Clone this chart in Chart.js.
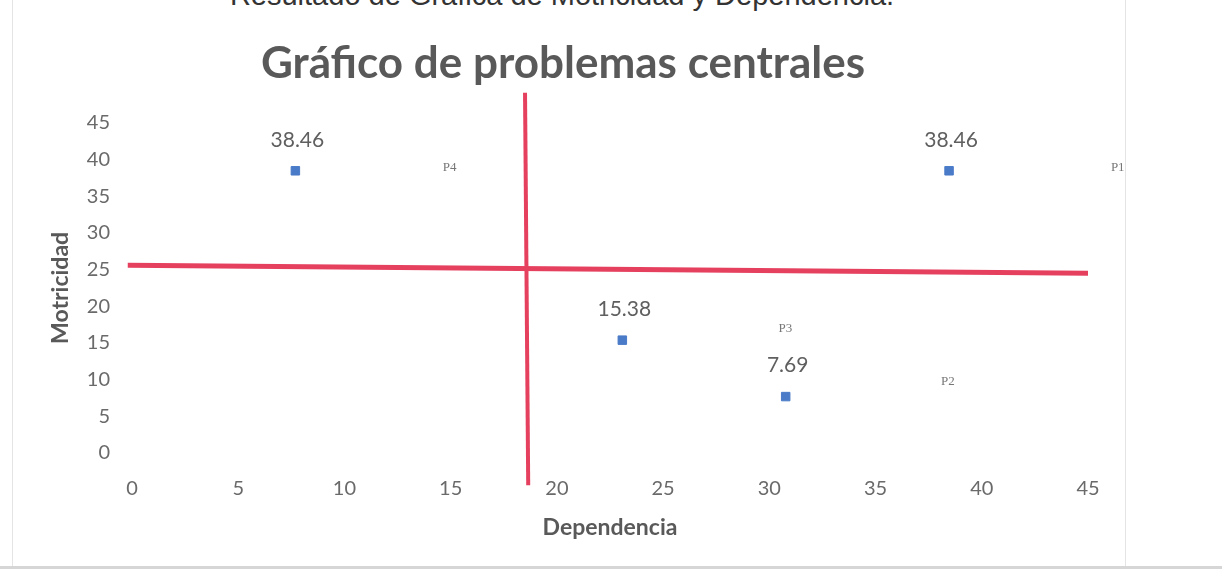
<!DOCTYPE html>
<html>
<head>
<meta charset="utf-8">
<script src="https://cdn.jsdelivr.net/npm/chart.js@4/dist/chart.umd.min.js"></script>
<style>
  html, body { margin: 0; padding: 0; background: #fff; overflow: hidden; }
  #wrap { position: relative; width: 1222px; height: 572px; }
  #top { position: absolute; left: 0; width: 1124px; top: -21px; text-align: center;
         font: 29px "Liberation Sans", Arial, sans-serif; color: #333; white-space: nowrap; }
  #grafica { position: absolute; left: 0; top: 0; }
  .marco { position: absolute; background: #e4e4e4; }
</style>
</head>
<body>
<div id="wrap">
  <div class="marco" style="left:12px;top:0;width:1px;height:566px"></div>
  <div class="marco" style="left:1125px;top:0;width:1px;height:566px"></div>
  <div class="marco" style="left:0;top:566px;width:1222px;height:3px;background:#d6d6d6"></div>
  <div id="top">Resultado de Gráfica de Motricidad y Dependencia.</div>
  <canvas id="grafica" width="1134" height="572"></canvas>
</div>
<script>
// datos de los problemas
const problemas = ['P1', 'P2', 'P3', 'P4'];
const dependencia = [38.46, 30.77, 23.08, 7.69];
const motricidad = [38.46, 7.69, 15.38, 38.46];

// donde quedaron las etiquetas P1..P4 (en unidades del grafico)
const etiquetaX = [46.4, 38.4, 30.75, 14.95];
const etiquetaY = [38.9, 9.8, 16.9, 38.9];

// lineas rojas de cuadrantes, trazadas a mano
const lineaHX = [-0.2, 45];
const lineaHY = [25.6, 24.5];
const lineaVX = [18.5, 18.65];
const lineaVY = [49.1, -4.4];

const ticksEje = [0, 5, 10, 15, 20, 25, 30, 35, 40, 45];

const puntos = dependencia.map((x, i) => ({ x: x, y: motricidad[i] }));
const lineaH = lineaHX.map((x, i) => ({ x: x, y: lineaHY[i] }));
const lineaV = lineaVX.map((x, i) => ({ x: x, y: lineaVY[i] }));

const gris = '#6a6a6a';

const etiquetas = {
  id: 'etiquetas',
  afterDatasetsDraw(chart) {
    const ctx = chart.ctx;
    const meta = chart.getDatasetMeta(2);
    ctx.save();
    ctx.fillStyle = '#5f5f5f';
    ctx.font = '21px Lato, "Open Sans", sans-serif';
    ctx.textAlign = 'center';
    ctx.textBaseline = 'middle';
    meta.data.forEach((p, i) => {
      ctx.fillText(motricidad[i].toFixed(2), p.x + 2, p.y - 31);
    });
    ctx.font = '13px "Liberation Serif", serif';
    ctx.fillStyle = '#777';
    const sx = chart.scales.x, sy = chart.scales.y;
    problemas.forEach((n, i) => {
      ctx.fillText(n, sx.getPixelForValue(etiquetaX[i]), sy.getPixelForValue(etiquetaY[i]));
    });
    ctx.restore();
  }
};

new Chart(document.getElementById('grafica'), {
  type: 'scatter',
  data: {
    datasets: [
      {
        label: 'horizontal',
        data: lineaH,
        showLine: true,
        borderColor: '#e6405f',
        borderWidth: 5,
        pointRadius: 0,
        clip: false
      },
      {
        label: 'vertical',
        data: lineaV,
        showLine: true,
        borderColor: '#e6405f',
        borderWidth: 4,
        pointRadius: 0,
        clip: false
      },
      {
        label: 'Problemas',
        data: puntos,
        pointStyle: 'rect',
        pointRadius: 6,
        backgroundColor: '#4a7bc8',
        borderColor: '#4a7bc8'
      }
    ]
  },
  options: {
    responsive: false,
    animation: false,
    layout: { padding: { left: 38, right: 46, top: 0, bottom: 0 } },
    plugins: {
      legend: { display: false },
      tooltip: { enabled: false },
      title: {
        display: true,
        text: 'Gráfico de problemas centrales',
        color: '#595959',
        font: { family: 'Lato, "Open Sans", sans-serif', size: 44, weight: 'bold' },
        padding: { top: 37, bottom: 33 }
      }
    },
    scales: {
      x: {
        type: 'linear',
        min: 0,
        max: 45,
        afterBuildTicks: s => { s.ticks = ticksEje.map(v => ({ value: v })); },
        afterFit: s => { s.height = 119; },
        grid: { display: false, drawTicks: false },
        border: { display: false },
        ticks: { color: gris, padding: 24, font: { family: 'Lato, sans-serif', size: 20 } },
        title: {
          display: true,
          text: 'Dependencia',
          color: '#595959',
          font: { family: 'Lato, sans-serif', size: 23, weight: 'bold' },
          padding: { top: 4, bottom: 31 }
        }
      },
      y: {
        type: 'linear',
        min: 0,
        max: 45,
        afterBuildTicks: s => { s.ticks = ticksEje.map(v => ({ value: v })); },
        afterFit: s => { s.width = 94; },
        grid: { display: false, drawTicks: false },
        border: { display: false },
        ticks: { color: gris, padding: 22, font: { family: 'Lato, sans-serif', size: 20 } },
        title: {
          display: true,
          text: 'Motricidad',
          color: '#595959',
          font: { family: 'Lato, sans-serif', size: 23, weight: 'bold' },
          padding: { top: 9, bottom: 4 }
        }
      }
    }
  },
  plugins: [etiquetas]
});
</script>
</body>
</html>
